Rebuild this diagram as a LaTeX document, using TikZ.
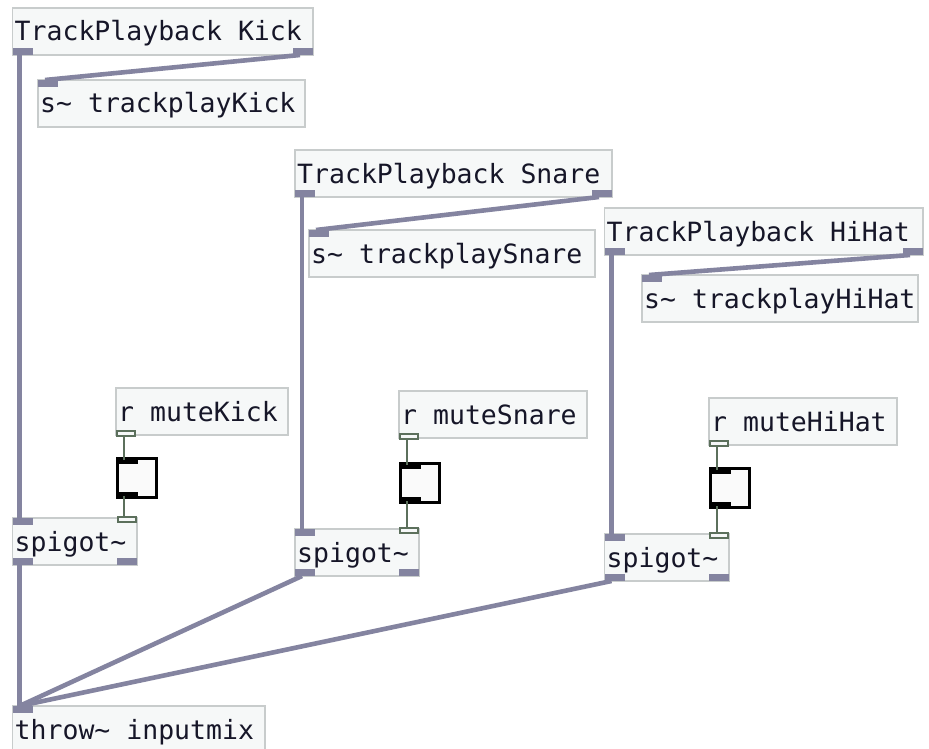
\documentclass[tikz,border=0pt]{standalone}
\usepackage{fontspec}
\newfontfamily\pdfont{DejaVu Sans Mono}
\definecolor{boxfill}{RGB}{246,248,248}
\definecolor{boxline}{RGB}{200,204,204}
\definecolor{sig}{RGB}{132,132,160}
\definecolor{ctl}{RGB}{92,112,92}
\definecolor{ink}{RGB}{22,22,40}
\begin{document}
\begin{tikzpicture}[x=1pt,y=-1pt,
  obj/.style={draw=boxline, fill=boxfill, line width=1.4pt, anchor=north west,
    minimum height=47pt, inner sep=0pt, outer sep=0pt},
  lbl/.style={anchor=base west, inner sep=0pt, text=ink,
    font=\pdfont\fontsize{26.5}{30}\selectfont},
  sigport/.style={fill=sig, draw=none, minimum width=20pt, minimum height=7pt,
    inner sep=0pt, outer sep=0pt},
  ctlport/.style={draw=ctl, fill=boxfill, line width=1.6pt, minimum width=18pt,
    minimum height=5pt, inner sep=0pt, outer sep=0pt},
  toggle/.style={draw=black, fill=white!98!black, line width=3pt, anchor=north west,
    minimum size=39pt, inner sep=0pt, outer sep=0pt},
  tglmark/.style={fill=black, draw=none, minimum width=19pt, minimum height=4pt,
    inner sep=0pt, outer sep=0pt},
  sigwire/.style={draw=sig, line width=4.6pt},
  ctlwire/.style={draw=ctl, line width=2.4pt},
]
\useasboundingbox (0,0) rectangle (929,749);
\fill[white] (0,0) rectangle (929,749);

% object box: name, x, y, width, text
\newcommand\pdobj[5]{%
  \node[obj, minimum width=#4pt] (#1) at (#2,#3) {};
  \node[lbl] at ([xshift=2pt,yshift=-33pt]#1.north west) {#5};}
% signal port: name, anchor, position
\newcommand\pdsig[3]{\node[sigport, anchor=#2] (#1) at (#3) {};}
% toggle with its inlet and outlet marks
\newcommand\pdtgl[3]{%
  \node[toggle] (#1) at (#2,#3) {};
  \node[tglmark, anchor=north west] (#1-i) at ([shift={(1.5pt,-1.5pt)}]#1.north west) {};
  \node[tglmark, anchor=south west] (#1-o) at ([shift={(1.5pt,1.5pt)}]#1.south west) {};}

% ---------- Kick ----------
\pdobj{kickTP}{12.5}{8}{300.5}{TrackPlayback Kick}
\pdsig{kickTP-o0}{south west}{kickTP.south west}
\pdsig{kickTP-o1}{south east}{kickTP.south east}
\pdobj{kickS}{38}{80}{267}{s\textasciitilde{} trackplayKick}
\pdsig{kickS-i0}{north west}{kickS.north west}
\pdobj{kickR}{116}{388}{172}{r muteKick}
\node[ctlport, anchor=south west] (kickR-o) at ([shift={(1pt,-1pt)}]kickR.south west) {};
\pdtgl{kickT}{117.5}{458.5}
\pdobj{kickSp}{12.5}{518}{124.5}{spigot\textasciitilde}
\pdsig{kickSp-i0}{north west}{kickSp.north west}
\node[ctlport, anchor=north east] (kickSp-i1) at ([shift={(-1pt,1pt)}]kickSp.north east) {};
\pdsig{kickSp-o0}{south west}{kickSp.south west}
\pdsig{kickSp-o1}{south east}{kickSp.south east}

% ---------- Snare ----------
\pdobj{snareTP}{295}{150}{317}{TrackPlayback Snare}
\pdsig{snareTP-o0}{south west}{snareTP.south west}
\pdsig{snareTP-o1}{south east}{snareTP.south east}
\pdobj{snareS}{309}{230}{286}{s\textasciitilde{} trackplaySnare}
\pdsig{snareS-i0}{north west}{snareS.north west}
\pdobj{snareR}{399}{391}{188}{r muteSnare}
\node[ctlport, anchor=south west] (snareR-o) at ([shift={(1pt,-1pt)}]snareR.south west) {};
\pdtgl{snareT}{400.5}{463.5}
\pdobj{snareSp}{295}{529}{124}{spigot\textasciitilde}
\pdsig{snareSp-i0}{north west}{snareSp.north west}
\node[ctlport, anchor=north east] (snareSp-i1) at ([shift={(-1pt,1pt)}]snareSp.north east) {};
\pdsig{snareSp-o0}{south west}{snareSp.south west}
\pdsig{snareSp-o1}{south east}{snareSp.south east}

% ---------- HiHat ----------
\pdobj{hihatTP}{604.5}{208}{318.5}{TrackPlayback HiHat}
\pdsig{hihatTP-o0}{south west}{hihatTP.south west}
\pdsig{hihatTP-o1}{south east}{hihatTP.south east}
\pdobj{hihatS}{642}{275}{276}{s\textasciitilde{} trackplayHiHat}
\pdsig{hihatS-i0}{north west}{hihatS.north west}
\pdobj{hihatR}{709}{398}{188}{r muteHiHat}
\node[ctlport, anchor=south west] (hihatR-o) at ([shift={(1pt,-1pt)}]hihatR.south west) {};
\pdtgl{hihatT}{710.5}{468.5}
\pdobj{hihatSp}{604.5}{534}{124.5}{spigot\textasciitilde}
\pdsig{hihatSp-i0}{north west}{hihatSp.north west}
\node[ctlport, anchor=north east] (hihatSp-i1) at ([shift={(-1pt,1pt)}]hihatSp.north east) {};
\pdsig{hihatSp-o0}{south west}{hihatSp.south west}
\pdsig{hihatSp-o1}{south east}{hihatSp.south east}

% ---------- mix ----------
\pdobj{throw}{12.5}{706}{252.5}{throw\textasciitilde{} inputmix}
\pdsig{throw-i0}{north west}{throw.north west}

% ---------- signal connections ----------
\draw[sigwire] ([xshift=-3pt]kickTP-o0.south) -- ([xshift=-3pt]kickSp-i0.north);
\draw[sigwire] ([xshift=-3pt]kickTP-o1.south) -- ([xshift=-3pt]kickS-i0.north);
\draw[sigwire] ([xshift=-3pt]snareTP-o0.south) -- ([xshift=-3pt]snareSp-i0.north);
\draw[sigwire] ([xshift=-3pt]snareTP-o1.south) -- ([xshift=-3pt]snareS-i0.north);
\draw[sigwire] ([xshift=-3pt]hihatTP-o0.south) -- ([xshift=-3pt]hihatSp-i0.north);
\draw[sigwire] ([xshift=-3pt]hihatTP-o1.south) -- ([xshift=-3pt]hihatS-i0.north);
\draw[sigwire] ([xshift=-3pt]kickSp-o0.south) -- ([xshift=-3pt]throw-i0.north);
\draw[sigwire] ([xshift=-3pt]snareSp-o0.south) -- ([xshift=-3pt]throw-i0.north);
\draw[sigwire] ([xshift=-3pt]hihatSp-o0.south) -- ([xshift=-3pt]throw-i0.north);

% ---------- control connections (vertical, under each receive outlet) ----------
\draw[ctlwire] ([xshift=-2pt]kickR-o.south) -- ([xshift=-2pt]kickR-o.south |- kickT-i.north);
\draw[ctlwire] ([xshift=-2pt]kickR-o.south |- kickT-o.south) -- ([xshift=-2pt]kickR-o.south |- kickSp-i1.north);
\draw[ctlwire] ([xshift=-2pt]snareR-o.south) -- ([xshift=-2pt]snareR-o.south |- snareT-i.north);
\draw[ctlwire] ([xshift=-2pt]snareR-o.south |- snareT-o.south) -- ([xshift=-2pt]snareR-o.south |- snareSp-i1.north);
\draw[ctlwire] ([xshift=-2pt]hihatR-o.south) -- ([xshift=-2pt]hihatR-o.south |- hihatT-i.north);
\draw[ctlwire] ([xshift=-2pt]hihatR-o.south |- hihatT-o.south) -- ([xshift=-2pt]hihatR-o.south |- hihatSp-i1.north);
\end{tikzpicture}
\end{document}
